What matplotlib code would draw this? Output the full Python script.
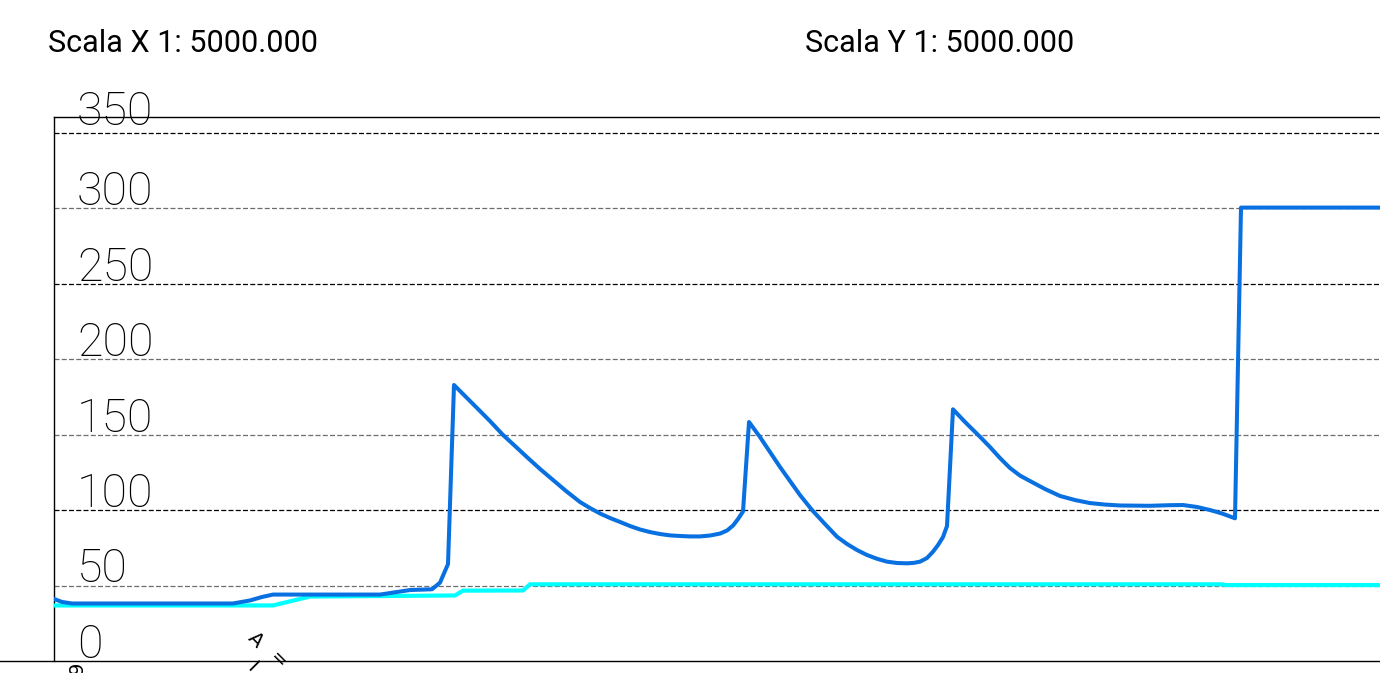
import matplotlib
matplotlib.use("Agg")
import matplotlib.pyplot as plt
from matplotlib.lines import Line2D

# ---- data (distance along profile, value) ----
blue_x = [0, 8, 18, 179, 196, 208, 219, 326, 356, 378, 386, 394,
          400, 411, 424, 436, 449, 461, 474, 486, 499, 512, 526, 536, 546, 556, 566,
          576, 586, 596, 606, 616, 626, 636, 646, 656, 666, 673, 679, 684, 689,
          695, 706, 716, 726, 736, 746, 758, 771, 783, 793, 803, 813, 823, 833, 843,
          853, 860, 866, 873, 879, 884, 889, 893,
          899, 911, 926, 936, 946, 956, 966, 976, 991, 1006, 1021, 1036, 1051, 1066,
          1096, 1116, 1129, 1143, 1156, 1168, 1181, 1187, 1326]
blue_y = [41.1, 39.1, 38.1, 38.1, 40.1, 42.4, 44.0, 44.0, 47.0, 47.5, 51.9, 64.2,
          182.8, 175.5, 166.9, 158.9, 149.7, 142.4, 134.4, 127.2, 119.9, 112.6, 105.3, 101.3, 97.7, 94.7, 92.1,
          89.4, 87.1, 85.4, 84.1, 83.2, 82.8, 82.5, 82.5, 83.1, 84.4, 86.4, 89.7, 94.0, 99.0,
          158.3, 148.3, 138.4, 128.5, 119.2, 109.9, 100.0, 90.7, 82.3, 77.5, 73.5, 70.2, 67.7, 65.8, 64.9,
          64.7, 65.0, 65.8, 68.2, 72.4, 76.8, 82.1, 89.4,
          166.7, 158.3, 148.5, 141.7, 134.4, 127.8, 122.8, 119.2, 113.9, 109.3, 106.6, 104.6, 103.6, 103.0,
          102.8, 103.2, 103.3, 102.0, 100.0, 97.7, 94.5, 300.3, 300.3]

cyan_x = [0, 219, 256, 401, 409, 469, 476, 1168, 1171, 1326]
cyan_y = [36.8, 36.8, 42.7, 43.4, 46.6, 46.7, 50.8, 50.8, 50.3, 50.3]

grid_vals = [50, 100, 150, 200, 250, 300, 350]
grid_cols = ['#6e6e6e', '#000000', '#6e6e6e', '#6e6e6e', '#000000', '#6e6e6e', '#000000']
tick_labels = ['0', '50', '100', '150', '200', '250', '300', '350']
tick_vals = [0, 50, 100, 150, 200, 250, 300, 350]
title_x = "Scala X 1: 5000.000"
title_y = "Scala Y 1: 5000.000"

W, H = 1380, 673
fig = plt.figure(figsize=(W / 100, H / 100), dpi=100)
ax = fig.add_axes([54 / W, (H - 661) / H, (W - 54) / W, (661 - 117) / H])
ax.set_xlim(0, 1326)
ax.set_ylim(0, 360.3)
ax.set_xticks([])
ax.set_yticks([])
for s in ['right', 'bottom']:
    ax.spines[s].set_visible(False)
for s in ['left', 'top']:
    ax.spines[s].set_linewidth(1.0)
    ax.spines[s].set_color('black')

for v, c in zip(grid_vals, grid_cols):
    ax.axhline(v, color=c, lw=0.9, linestyle=(0, (4.0, 1.8)), zorder=1)

ax.plot(cyan_x, cyan_y, color='#00FFFF', lw=3.0, solid_joinstyle='miter', zorder=3)
ax.plot(blue_x, blue_y, color='#0870E0', lw=2.9, solid_joinstyle='round', zorder=4)

# y value labels inside the frame
for lab, v in zip(tick_labels, tick_vals):
    off = 5.3 if v == 350 else 2.0
    ax.text(23, v + off, lab, fontsize=33.5, fontfamily='Roboto', fontweight=100,
            ha='left', va='baseline', color='black', zorder=2, clip_on=False)

# bottom line spanning whole width
fig.add_artist(Line2D([0, 1], [(H - 661) / H] * 2, color='black', lw=1.0,
                      transform=fig.transFigure))

# titles
fig.text(48 / W, 1 - 52 / H, title_x, fontsize=22, fontfamily='Roboto',
         ha='left', va='baseline')
fig.text(805 / W, 1 - 52 / H, title_y, fontsize=22, fontfamily='Roboto',
         ha='left', va='baseline')

# partially visible rotated station labels at the bottom
def ptext(x, y, s, rot, size=12):
    fig.text(x / W, 1 - y / H, s, fontsize=size, rotation=rot, rotation_mode='anchor',
             ha='center', va='center', fontfamily='DejaVu Sans')

ptext(77, 668, '9', 90, 14)
ptext(255, 640, 'A', -45, 14)
ptext(278, 660, '=', -45, 14)
ptext(252, 667, 'I', -45, 14)

fig.savefig('out.png', dpi=100)
